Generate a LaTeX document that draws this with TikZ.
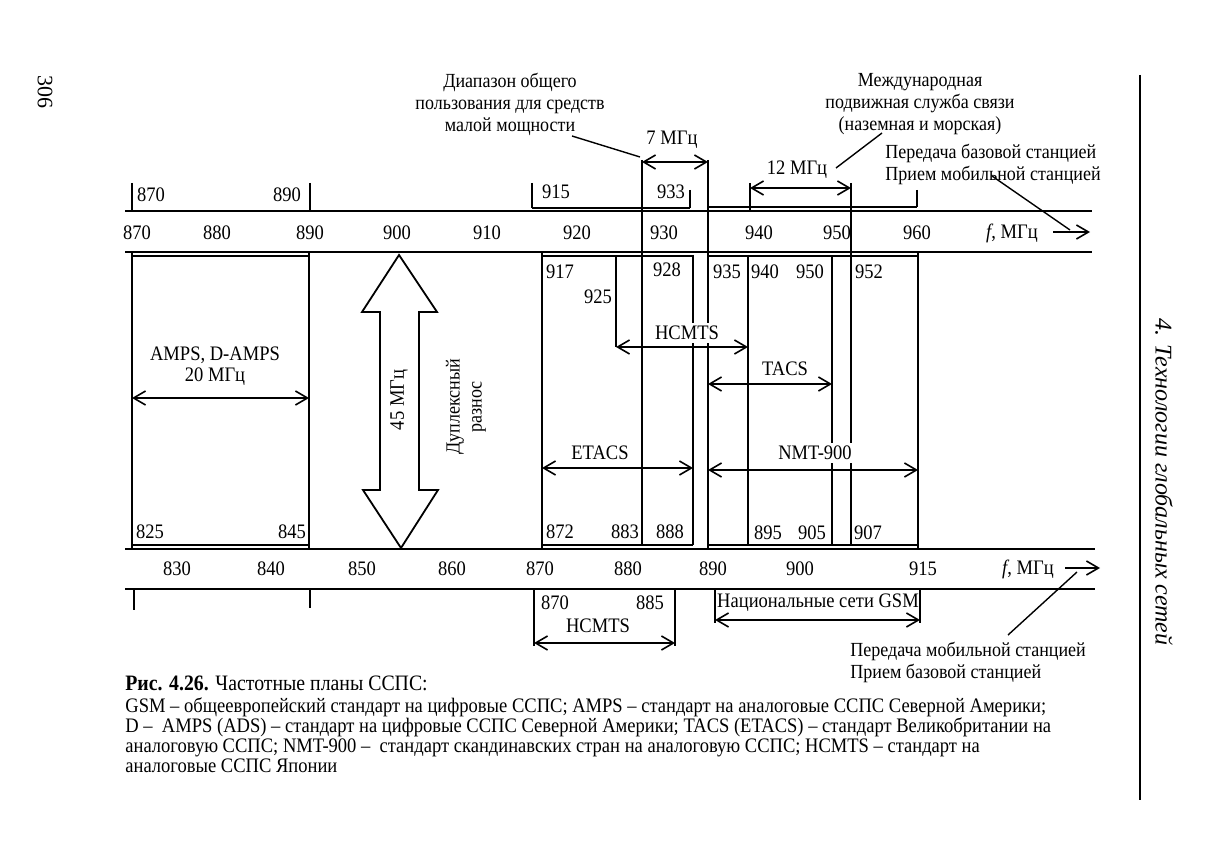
\documentclass[tikz,border=0pt]{standalone}
\usepackage{fontspec}
\setmainfont{Liberation Serif}[FakeStretch=0.9]
\newfontfamily\headfont{Liberation Serif}
\usepackage{tikz}
\usetikzlibrary{arrows.meta}

\tikzset{
  num/.style={inner sep=0pt},
  note/.style={inner sep=0pt, align=center, font=\fontsize{10}{11}\selectfont},
  cut/.style={fill=white, inner sep=1.5pt},
  axisline/.style={line width=1.1pt},
  bar/.style={line width=0.9pt},
  thinbar/.style={line width=0.6pt},
  span/.style={line width=0.8pt,
    {Straight Barb[length=6pt,width=7pt]}-{Straight Barb[length=6pt,width=7pt]}},
  fwd/.style={line width=0.8pt, -{Straight Barb[length=6pt,width=7pt]}},
  lead/.style={line width=0.7pt},
}

\begin{document}
\begin{tikzpicture}[x=0.5pt, y=-0.5pt, font=\fontsize{10.3}{11}\selectfont]
  \useasboundingbox (0,0) rectangle (1205,845);

  % the two frequency axes
  \draw[axisline] (125,211) -- (1092,211);
  \draw[axisline] (125,252) -- (1092,252);
  \draw[axisline] (125,549) -- (1095,549);
  \draw[axisline] (125,589) -- (1095,589);

  \foreach \f/\x in {870/137,880/217,890/310,900/397,910/487,920/577,930/664,940/759,950/837,960/917}
    \node[num] (up\f) at (\x,233) {\f};
  \foreach \f/\x in {830/177,840/271,850/362,860/452,870/540,880/628,890/713,900/800,915/923}
    \node[num] (dn\f) at (\x,569) {\f};
  \node[num] (upunit) at (1012,233) {\textit{f}, МГц};
  \node[num] (dnunit) at (1028,569) {\textit{f}, МГц};
  \coordinate (upa) at (1053,232);
  \coordinate (upb) at (1090,232);
  \coordinate (dna) at (1065,568);
  \coordinate (dnb) at (1100,568);
  \draw[fwd] (upa) -- (upb);
  \draw[fwd] (dna) -- (dnb);

  % channel borders between the axes
  \foreach \n/\x/\ya/\yb in {amps-l/132/252/549, amps-r/309/252/549,
      ch917/542/252/549, ch925/616/257/347, ch928/642/160/545,
      ch888/693/255/545, ch935/708/160/549, ch940/748/255/545,
      ch950/832/257/545, ch952/851/183/545, ch960/918/252/549}{
    \coordinate (\n-t) at (\x,\ya);
    \coordinate (\n-b) at (\x,\yb);
    \draw[bar] (\n-t) -- (\n-b);
  }
  % short ticks above and below the axes
  \foreach \n/\x/\ya/\yb in {t870/132/183/211, t890/310/183/211,
      t915/532/183/208, t933/690/190/208, t940/750/183/211,
      t960/917/190/207, b825/134/589/610, b845/310/589/608,
      hc-l/534/589/646, hc-r/675/589/646, gsm-l/715/589/623,
      gsm-r/920/589/623}{
    \coordinate (\n-t) at (\x,\ya);
    \coordinate (\n-b) at (\x,\yb);
    \draw[bar] (\n-t) -- (\n-b);
  }
  \draw[thinbar] (t915-b) -- (t933-b);
  \draw[thinbar] (ch935-t |- 0,207) -- (t960-b);
  \foreach \l/\r in {amps-l/amps-r, ch917/ch888, ch935/ch960}{
    \draw[thinbar] (\l-t |- 0,256) -- (\r-t |- 0,256);
    \draw[thinbar] (\l-t |- 0,545) -- (\r-t |- 0,545);
  }

  % band labels
  \node[num] (l870) at (151,195) {870};
  \node[num] (l890) at (287,195) {890};
  \node[num] (l915) at (556,192) {915};
  \node[num] (l933) at (671,192) {933};
  \foreach \f/\x/\y in {917/560/272, 925/598/297, 928/667/270, 935/727/272,
      940/765/272, 950/810/272, 952/869/272, 825/150/532, 845/292/532,
      872/560/532, 883/625/532, 888/670/532, 895/768/533, 905/812/533,
      907/868/533}
    \node[num] (m\f) at (\x,\y) {\f};
  \node[num] (b870) at (555,603) {870};
  \node[num] (b885) at (650,603) {885};

  % system spans
  \node[num] (ampsname) at (215,355) {AMPS, D-AMPS};
  \node[num] (ampswidth) at (215,377) {20 МГц};
  \draw[span] (amps-l-t |- 0,398) -- (amps-r-t |- 0,398);
  \node[cut] (hcmts) at (687,333) {HCMTS};
  \draw[span] (ch925-t |- 0,347) -- (ch940-t |- 0,347);
  \node[num] (tacs) at (785,369) {TACS};
  \draw[span] (ch935-t |- 0,384) -- (ch950-t |- 0,384);
  \node[num] (etacs) at (600,453) {ETACS};
  \draw[span] (ch917-t |- 0,468) -- (ch888-t |- 0,468);
  \node[cut] (nmt) at (815,453) {NMT-900};
  \draw[span] (ch935-t |- 0,470) -- (ch960-t |- 0,470);
  \node[num] (w7) at (672,140) {7 МГц};
  \draw[span] (ch928-t |- 0,162) -- (ch935-t |- 0,162);
  \node[num] (w12) at (797,170) {12 МГц};
  \draw[span] (t940-t |- 0,188) -- (ch952-t |- 0,188);
  \node[num] (hcmtsjp) at (598,626) {HCMTS};
  \draw[span] (hc-l-t |- 0,643) -- (hc-r-t |- 0,643);
  \node[num] (gsmnat) at (818,603) {Национальные сети GSM};
  \draw[span] (gsm-l-t |- 0,620) -- (gsm-r-t |- 0,620);

  % duplex spacing
  \draw[bar] (399,255) -- (437,312) -- (419,312) -- (419,490) -- (438,490)
    -- (401,548) -- (363,490) -- (380,490) -- (380,312) -- (362,312) -- cycle;
  \node[num, rotate=90] (dup45) at (399,400) {45 МГц};
  \node[note, rotate=90] (duplex) at (466,407) {Дуплексный\\разнос};

  % notes with leaders
  \node[note] (lowpow) at (510,104) {Диапазон общего\\пользования для средств\\малой мощности};
  \node[note] (intl) at (920,104) {Международная\\подвижная служба связи\\(наземная и морская)};
  \node[note, align=left, anchor=west] (basetx) at (885,164) {Передача базовой станцией\\Прием мобильной станцией};
  \node[note, align=left, anchor=west] (mobtx) at (850,662) {Передача мобильной станцией\\Прием базовой станцией};
  \coordinate (lp1) at (572,136);
  \coordinate (lp2) at (640,157);
  \coordinate (in1) at (836,168);
  \coordinate (in2) at (882,133);
  \coordinate (bt1) at (992,176);
  \coordinate (bt2) at (1070,230);
  \coordinate (mt1) at (1008,635);
  \coordinate (mt2) at (1077,572);
  \draw[lead] (lp1) -- (lp2);
  \draw[lead] (in1) -- (in2);
  \draw[lead] (bt1) -- (bt2);
  \draw[lead] (mt1) -- (mt2);

  % caption
  \node[anchor=west, inner sep=0pt, font=\fontsize{11}{13}\selectfont] (cap) at (125,683)
    {\textbf{Рис. 4.26.} Частотные планы ССПС:};
  \node[anchor=north west, inner sep=0pt, align=left, font=\fontsize{10.3}{10}\selectfont] (legend) at (125,697)
    {GSM – общеевропейский стандарт на цифровые ССПС; AMPS – стандарт на аналоговые ССПС Северной Америки;\\
     D –\ \ AMPS (ADS) – стандарт на цифровые ССПС Северной Америки; TACS (ETACS) – стандарт Великобритании на\\
     аналоговую ССПС; NMT-900 –\ \ стандарт скандинавских стран на аналоговую ССПС; HCMTS – стандарт на\\
     аналоговые ССПС Японии};

  % page margin
  \draw[line width=1.2pt] (1140,75) -- (1140,800);
  \node[rotate=-90, inner sep=0pt, font=\headfont\fontsize{12}{13}\itshape] (runhead) at (1164,482) {4. Технологии глобальных сетей};
  \node[rotate=-90, inner sep=0pt, font=\headfont\fontsize{11}{12}\selectfont] (pageno) at (45,92) {306};
\end{tikzpicture}
\end{document}
